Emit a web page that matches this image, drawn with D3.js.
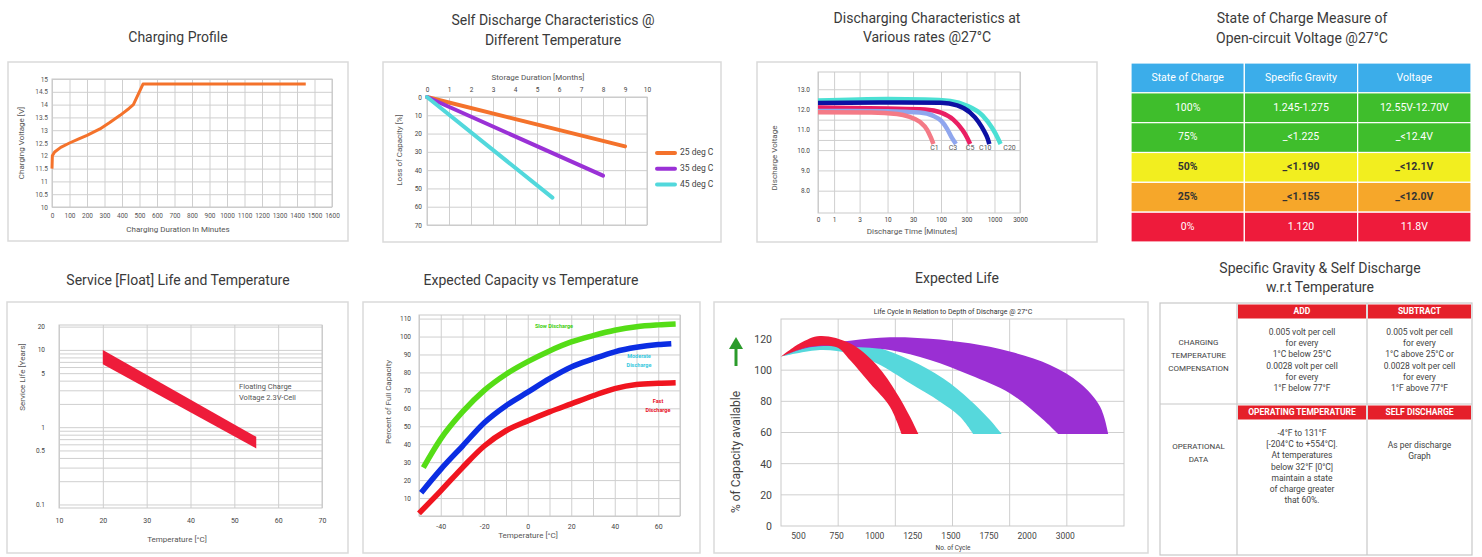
<!DOCTYPE html>
<html>

<head>
    <meta charset="UTF-8">
    <style>
        body { margin: 0; background: #fff; }
        svg { display: block; font-family: Roboto, "Open Sans", sans-serif; }
    </style>
</head>

<body>
    <svg></svg>
    <script src="https://d3js.org/d3.v7.min.js"></script>

    <script>
        const width = 1482, height = 557;

        // ---- Charging profile
        const chargeXTicks = [0, 100, 200, 300, 400, 500, 600, 700, 800, 900, 1000, 1100, 1200, 1300, 1400, 1500, 1600];
        const chargeYTicks = [10, 10.5, 11, 11.5, 12, 12.5, 13, 13.5, 14, 14.5, 15];
        const chargeMinutes = [0, 2, 15, 50, 100, 150, 200, 274, 330, 389, 440, 465, 520, 1450];
        const chargeVolts = [11.5, 12.0, 12.15, 12.33, 12.5, 12.65, 12.8, 13.05, 13.3, 13.58, 13.85, 14.0, 14.8, 14.8];

        // ---- Self discharge
        const monthTicks = [0, 1, 2, 3, 4, 5, 6, 7, 8, 9, 10];
        const lossTicks = [0, 10, 20, 30, 40, 50, 60, 70];
        const selfSeries = ["25 deg C", "35 deg C", "45 deg C"];
        const selfMonths = [[0, 9], [0, 8], [0, 5.7]];
        const selfLoss = [[0, 27], [0, 43], [0, 55]];

        // ---- Discharging at various rates
        const timeTicks = [0.5, 1, 3, 10, 30, 100, 300, 1000, 3000];
        const voltTicks = [8, 9, 10, 10.5, 11, 11.5, 12, 13];
        const voltLabels = [8, 9, 10, 11, 12, 13];
        const rateNames = ["C20", "C10", "C5", "C3", "C1"];
        const rateTimes = [
            [0.5, 10, 50, 150, 300, 600, 900, 1150, 1300],
            [0.5, 10, 100, 200, 350, 500, 650, 750, 800],
            [0.5, 10, 50, 100, 170, 250, 310, 350],
            [0.5, 10, 40, 70, 100, 130, 160, 190],
            [0.5, 5, 15, 25, 40, 55, 65, 72]
        ];
        const rateVolts = [
            [12.44, 12.52, 12.5, 12.42, 12.2, 11.7, 11.1, 10.6, 10.3],
            [12.32, 12.35, 12.33, 12.2, 11.85, 11.4, 10.9, 10.55, 10.3],
            [12.1, 12.05, 12.0, 11.85, 11.5, 11.0, 10.6, 10.3],
            [11.93, 11.92, 11.85, 11.7, 11.45, 11.05, 10.6, 10.3],
            [11.86, 11.85, 11.78, 11.65, 11.4, 11.0, 10.6, 10.3]
        ];
        const rateColors = ["#4be0d4", "#0c10a3", "#ea1f63", "#8fa6ee", "#f47a86"];
        const rateLabelDx = [9, -4, 0, -3, 1];

        // ---- State of charge table
        const socHeader = ["State of Charge", "Specific Gravity", "Voltage"];
        const socLevels = ["100%", "75%", "50%", "25%", "0%"];
        const socGravity = ["1.245-1.275", "_<1.225", "_<1.190", "_<1.155", "1.120"];
        const socVoltage = ["12.55V-12.70V", "_<12.4V", "_<12.1V", "_<12.0V", "11.8V"];
        const socColors = ["#3fbe2c", "#3fbe2c", "#f2ee1f", "#f6a72a", "#ee1b3b"];
        const socDarkText = [false, false, true, true, false];

        // ---- Service life
        const tempTicks = [10, 20, 30, 40, 50, 60, 70];
        const lifeGrid = [0.1, 0.2, 0.3, 0.4, 0.5, 0.6, 0.7, 0.8, 0.9, 1, 2, 3, 4, 5, 6, 7, 8, 9, 10, 20];
        const lifeLabels = [0.1, 0.5, 1, 5, 10, 20];
        const lifeTemps = [20, 55];
        const lifeUpper = [10, 0.75];
        const lifeLower = [6.5, 0.53];

        // ---- Expected capacity vs temperature
        const capXGrid = [-50, -40, -30, -20, -10, 0, 10, 20, 30, 40, 50, 60, 70];
        const capXLabels = [-40, -20, 0, 20, 40, 60];
        const capYGrid = [0, 10, 20, 30, 40, 50, 60, 70, 80, 90, 100, 110];
        const capTemps = [-48, -40, -30, -20, -10, 0, 10, 20, 30, 40, 50, 60, 68];
        const capSlow = [27, 43, 58, 70, 79, 86, 92, 97, 100.5, 103.5, 105.5, 106.5, 107];
        const capTempsMod = [-49, -40, -30, -20, -10, 0, 10, 20, 30, 40, 50, 60, 66];
        const capModerate = [13, 26, 39, 52, 61.5, 69, 76.5, 83, 87.5, 91.5, 94, 95.5, 96];
        const capTempsFast = [-50, -40, -30, -20, -10, 0, 10, 20, 30, 40, 50, 60, 68];
        const capFast = [1.5, 14, 27, 39, 47.5, 53, 58, 62.5, 67, 71, 73.3, 74, 74.3];

        // ---- Expected life (bands: upper edge and lower edge)
        const cycleTicks = [500, 750, 1000, 1250, 1500, 1750, 2000, 3000];
        const availTicks = [0, 20, 40, 60, 80, 100, 120];
        const redUpper = [[388, 108.6], [513, 117.2], [644, 121.9], [841, 117.2], [1016, 103.3], [1148, 85.2], [1235, 70.1], [1290, 59]];
        const redLower = [[388, 108.6], [579, 115], [754, 114.7], [841, 106.5], [972, 91.6], [1103, 76.6], [1180, 59]];
        const cyanUpper = [[388, 108.6], [579, 116.2], [841, 117.6], [1016, 114.7], [1235, 106.5], [1451, 94.8], [1628, 80.9], [1760, 68], [1837, 59]];
        const cyanLower = [[388, 108.6], [644, 112.9], [841, 110.8], [1016, 104.4], [1235, 91.6], [1432, 79.8], [1563, 70.1], [1650, 59]];
        const purpleUpper = [[388, 108.6], [579, 115.5], [841, 118.9], [1103, 121.1], [1366, 120.2], [1628, 117.2], [1890, 111.9], [2614, 103.3], [3400, 91.6], [3930, 76.6], [4144, 59]];
        const purpleLower = [[388, 108.6], [579, 114.7], [841, 115.1], [1103, 112.9], [1366, 106.5], [1628, 96.9], [1890, 85.2], [2350, 70.1], [2830, 59]];

        // ---- Specific gravity table
        const sgRowLabels = [["CHARGING", "TEMPERATURE", "COMPENSATION"], ["OPERATIONAL", "DATA"]];
        const sgHeaders = [["ADD", "SUBTRACT"], ["OPERATING TEMPERATURE", "SELF DISCHARGE"]];
        const sgBody = [
            [["0.005 volt per cell", "for every", "1°C below 25°C", "0.0028 volt per cell", "for every", "1°F below 77°F"],
             ["0.005 volt per cell", "for every", "1°C above 25°C or", "0.0028 volt per cell", "for every", "1°F above 77°F"]],
            [["-4°F to 131°F", "[-204°C to +554°C].", "At temperatures", "below 32°F [0°C]", "maintain a state", "of charge greater", "that 60%."],
             ["As per discharge", "Graph"]]
        ];

        const svg = d3.select("svg")
            .attr("width", width)
            .attr("height", height);

        function box(x0, y0, x1, y1) {
            svg.append("rect")
                .attr("x", x0).attr("y", y0)
                .attr("width", x1 - x0).attr("height", y1 - y0)
                .attr("fill", "#fff")
                .attr("stroke", "#dadada")
                .attr("stroke-width", 1.5);
        }

        function title(lines, cx, y, gap) {
            svg.append("text")
                .attr("text-anchor", "middle")
                .attr("font-size", 14)
                .attr("fill", "#3a3a3a")
                .selectAll("tspan").data(lines).join("tspan")
                .attr("x", cx)
                .attr("y", (d, i) => y + i * (gap || 0))
                .text(d => d);
        }

        function label(txt, x, y, size, rotate, color) {
            svg.append("text")
                .attr("transform", "translate(" + x + "," + y + ")" + (rotate ? " rotate(-90)" : ""))
                .attr("text-anchor", "middle")
                .attr("dominant-baseline", "middle")
                .attr("font-size", size)
                .attr("fill", color || "#555")
                .text(txt);
        }

        function tidy(g, size, color) {
            g.attr("font-family", null).attr("font-size", null);
            g.select(".domain").remove();
            g.selectAll(".tick line").attr("stroke", "#cfcfcf");
            g.selectAll(".tick text").attr("font-size", size).attr("fill", color || "#555");
        }

        function frame(x, y) {
            const xr = x.range(), yr = y.range();
            svg.append("rect")
                .attr("x", d3.min(xr)).attr("y", d3.min(yr))
                .attr("width", d3.max(xr) - d3.min(xr))
                .attr("height", d3.max(yr) - d3.min(yr))
                .attr("fill", "none")
                .attr("stroke", "#c9c9c9");
        }

        const zip = (a, b) => a.map((d, i) => [d, b[i]]);

        // =============== 1. Charging Profile
        box(8, 62, 348, 241);
        title(["Charging Profile"], 178, 42);
        const xCharge = d3.scaleLinear().domain([0, 1600]).range([52, 332]);
        const yCharge = d3.scaleLinear().domain([10, 15]).range([207, 79]);

        svg.append("g")
            .attr("transform", "translate(0,207)")
            .call(d3.axisBottom(xCharge).tickValues(chargeXTicks).tickSize(-128).tickPadding(6).tickFormat(d => d))
            .call(g => tidy(g, 6.5));
        svg.append("g")
            .attr("transform", "translate(52,0)")
            .call(d3.axisLeft(yCharge).tickValues(chargeYTicks).tickSize(-280).tickPadding(4).tickFormat(d => d))
            .call(g => tidy(g, 6.5));
        frame(xCharge, yCharge);

        svg.append("path")
            .datum(zip(chargeMinutes, chargeVolts))
            .attr("fill", "none")
            .attr("stroke", "#f4722b")
            .attr("stroke-width", 3)
            .attr("stroke-linejoin", "round")
            .attr("d", d3.line().x(d => xCharge(d[0])).y(d => yCharge(d[1])));

        label("Charging Voltage [V]", 22, 143, 8, true);
        label("Charging Duration In Minutes", 178, 230, 8);

        // =============== 2. Self discharge
        box(383, 62, 721, 242);
        title(["Self Discharge Characteristics @", "Different Temperature"], 553, 25, 20);
        const xMonth = d3.scaleLinear().domain([0, 10]).range([427, 647]);
        const yLoss = d3.scaleLinear().domain([0, 70]).range([97, 225]);

        svg.append("g")
            .attr("transform", "translate(0,97)")
            .call(d3.axisTop(xMonth).tickValues(monthTicks).tickSize(-128).tickPadding(5))
            .call(g => tidy(g, 6.5, "#444"));
        svg.append("g")
            .attr("transform", "translate(427,0)")
            .call(d3.axisLeft(yLoss).tickValues(lossTicks).tickSize(-220).tickPadding(5))
            .call(g => tidy(g, 6.5, "#444"));
        frame(xMonth, yLoss);

        const selfColors = ["#f4722b", "#9a31d6", "#52d8dc"];
        const selfLine = d3.line().x(d => xMonth(d[0])).y(d => yLoss(d[1]));
        selfSeries.forEach((name, i) => {
            svg.append("path")
                .datum(zip(selfMonths[i], selfLoss[i]))
                .attr("fill", "none")
                .attr("stroke", selfColors[i])
                .attr("stroke-width", 4)
                .attr("stroke-linecap", "round")
                .attr("d", selfLine);
        });

        const legend = svg.append("g").attr("transform", "translate(657,153)");
        legend.selectAll("line").data(selfSeries).join("line")
            .attr("x1", 0).attr("x2", 18)
            .attr("y1", (d, i) => i * 15.8).attr("y2", (d, i) => i * 15.8)
            .attr("stroke", (d, i) => selfColors[i])
            .attr("stroke-width", 4)
            .attr("stroke-linecap", "round");
        legend.selectAll("text").data(selfSeries).join("text")
            .attr("x", 23).attr("y", (d, i) => i * 15.8)
            .attr("dominant-baseline", "middle")
            .attr("font-size", 8.5)
            .attr("fill", "#444")
            .text(d => d);

        label("Storage Duration [Months]", 538, 78, 8);
        label("Loss of Capacity [%]", 400, 150, 8, true);

        // =============== 3. Discharging rates
        box(757, 62, 1097, 242);
        title(["Discharging Characteristics at", "Various rates @27°C"], 927, 23, 19);
        const xTime = d3.scaleLog().domain([0.5, 3000]).range([818, 1020]);
        const yVolt = d3.scaleLinear().domain([6.9, 13.85]).range([213, 72]);

        svg.append("g")
            .attr("transform", "translate(0,213)")
            .call(d3.axisBottom(xTime).tickValues(timeTicks).tickSize(-141).tickPadding(4)
                .tickFormat(d => d < 1 ? "0" : d))
            .call(g => tidy(g, 6.5, "#444"));
        svg.append("g")
            .attr("transform", "translate(818,0)")
            .call(d3.axisLeft(yVolt).tickValues(voltTicks).tickSize(-202).tickPadding(8)
                .tickFormat(d => voltLabels.includes(d) ? d3.format(".1f")(d) : ""))
            .call(g => tidy(g, 6.5, "#444"));
        frame(xTime, yVolt);

        const rateLine = d3.line().curve(d3.curveMonotoneX)
            .x(d => xTime(d[0])).y(d => yVolt(d[1]));
        rateNames.forEach((name, i) => {
            const pts = zip(rateTimes[i], rateVolts[i]);
            svg.append("path")
                .datum(pts)
                .attr("fill", "none")
                .attr("stroke", rateColors[i])
                .attr("stroke-width", 4.5)
                .attr("d", rateLine);
            const last = pts[pts.length - 1];
            svg.append("text")
                .attr("x", xTime(last[0]) + rateLabelDx[i])
                .attr("y", yVolt(10.1))
                .attr("text-anchor", "middle")
                .attr("dominant-baseline", "middle")
                .attr("font-size", 7)
                .attr("fill", "#555")
                .text(name);
        });

        label("Discharge Voltage", 775, 158, 8, true);
        label("Discharge Time [Minutes]", 912, 232, 8);

        // =============== 4. State of charge table
        title(["State of Charge Measure of", "Open-circuit Voltage @27°C"], 1302, 23, 20);
        const xSoc = d3.scaleBand().domain([0, 1, 2]).range([1131, 1471]);
        const ySoc = d3.scaleBand().domain([0, 1, 2, 3, 4, 5]).range([63, 242]);
        const socRows = [socHeader].concat(socLevels.map((d, i) => [d, socGravity[i], socVoltage[i]]));

        const socRow = svg.append("g").selectAll("g").data(socRows).join("g")
            .attr("transform", (d, i) => "translate(0," + ySoc(i) + ")");
        socRow.selectAll("rect").data((d, i) => d.map(v => ({ v: v, row: i }))).join("rect")
            .attr("x", (d, j) => xSoc(j))
            .attr("width", xSoc.bandwidth())
            .attr("height", ySoc.bandwidth())
            .attr("fill", d => d.row === 0 ? "#3badea" : socColors[d.row - 1])
            .attr("stroke", "#fff")
            .attr("stroke-width", 1.2);
        socRow.selectAll("text").data((d, i) => d.map(v => ({ v: v, row: i }))).join("text")
            .attr("x", (d, j) => xSoc(j) + xSoc.bandwidth() / 2)
            .attr("y", ySoc.bandwidth() / 2)
            .attr("text-anchor", "middle")
            .attr("dominant-baseline", "middle")
            .attr("font-size", 10.5)
            .attr("font-weight", d => d.row > 0 && socDarkText[d.row - 1] ? "bold" : "normal")
            .attr("fill", d => d.row > 0 && socDarkText[d.row - 1] ? "#333" : "#fff")
            .text(d => d.v);

        // =============== 5. Service life
        box(7, 302, 348, 553);
        title(["Service [Float] Life and Temperature"], 178, 285);
        const xTemp = d3.scaleLinear().domain([10, 70]).range([59, 322]);
        const yLife = d3.scaleLog().domain([0.09, 21]).range([508, 325]);

        svg.append("g")
            .attr("transform", "translate(0,508)")
            .call(d3.axisBottom(xTemp).tickValues(tempTicks).tickSize(-183).tickPadding(10))
            .call(g => tidy(g, 7, "#444"));
        svg.append("g")
            .attr("transform", "translate(59,0)")
            .call(d3.axisLeft(yLife).tickValues(lifeGrid).tickSize(-263).tickPadding(14)
                .tickFormat(d => lifeLabels.includes(d) ? d : ""))
            .call(g => tidy(g, 6.5, "#444"));
        frame(xTemp, yLife);

        svg.append("path")
            .datum(lifeTemps.map((t, i) => ({ t: t, hi: lifeUpper[i], lo: lifeLower[i] })))
            .attr("fill", "#ee1c3a")
            .attr("d", d3.area().x(d => xTemp(d.t)).y0(d => yLife(d.lo)).y1(d => yLife(d.hi)));

        svg.append("text")
            .attr("font-size", 7.5).attr("fill", "#555")
            .selectAll("tspan").data(["Floating Charge", "Voltage 2.3V-Cell"]).join("tspan")
            .attr("x", 239).attr("y", (d, i) => 389 + i * 10.5)
            .text(d => d);

        label("Service Life [Years]", 23, 377, 8, true);
        label("Temperature [°C]", 177, 540, 8);

        // =============== 6. Expected capacity
        box(363, 302, 700, 553);
        title(["Expected Capacity vs Temperature"], 531, 285);
        const xCap = d3.scaleLinear().domain([-50, 70]).range([419, 680]);
        const yCap = d3.scaleLinear().domain([0, 112]).range([516, 315]);

        svg.append("g")
            .attr("transform", "translate(0,516)")
            .call(d3.axisBottom(xCap).tickValues(capXGrid).tickSize(-201).tickPadding(8)
                .tickFormat(d => capXLabels.includes(d) ? d : ""))
            .call(g => tidy(g, 7, "#444"));
        svg.append("g")
            .attr("transform", "translate(419,0)")
            .call(d3.axisLeft(yCap).tickValues(capYGrid).tickSize(-261).tickPadding(8)
                .tickFormat(d => d === 0 ? "" : d))
            .call(g => tidy(g, 6.5, "#444"));
        frame(xCap, yCap);

        const capLine = d3.line().curve(d3.curveMonotoneX)
            .x(d => xCap(d[0])).y(d => yCap(d[1]));
        [[capTempsFast, capFast, "#f0151f"], [capTempsMod, capModerate, "#0b2de3"], [capTemps, capSlow, "#55dd16"]]
            .forEach(s => {
                svg.append("path")
                    .datum(zip(s[0], s[1]))
                    .attr("fill", "none")
                    .attr("stroke", s[2])
                    .attr("stroke-width", 5.5)
                    .attr("d", capLine);
            });

        function note(lines, x, y, color) {
            svg.append("text")
                .attr("text-anchor", "middle")
                .attr("font-size", 5.5)
                .attr("font-weight", "bold")
                .attr("fill", color)
                .selectAll("tspan").data(lines).join("tspan")
                .attr("x", x).attr("y", (d, i) => y + i * 9)
                .text(d => d);
        }
        note(["Slow Discharge"], 554, 328, "#3fcf10");
        note(["Moderate", "Discharge"], 639, 358, "#36c8e0");
        note(["Fast", "Discharge"], 658, 403, "#e8102a");

        label("Percent of Full Capacity", 389, 402, 8, true);
        label("Temperature [°C]", 528, 536, 8);

        // =============== 7. Expected life
        box(714, 302, 1148, 553);
        title(["Expected Life"], 957, 283);
        const xCycle = d3.scaleLinear()
            .domain(cycleTicks)
            .range(cycleTicks.map((d, i) => 798 + i * 38.1));
        const yAvail = d3.scaleLinear().domain([0, 120]).range([526, 339]);
        const lifePlot = { x0: 781, x1: 1124, y0: 319, y1: 526 };

        const lifeGridG = svg.append("g").attr("stroke", "#cfcfcf");
        lifeGridG.selectAll("line.v").data(d3.range(1, 6)).join("line")
            .attr("class", "v")
            .attr("x1", i => lifePlot.x0 + i * (lifePlot.x1 - lifePlot.x0) / 6)
            .attr("x2", i => lifePlot.x0 + i * (lifePlot.x1 - lifePlot.x0) / 6)
            .attr("y1", lifePlot.y0).attr("y2", lifePlot.y1);
        lifeGridG.selectAll("line.h").data(availTicks.filter(d => d > 0 && d < 120)).join("line")
            .attr("class", "h")
            .attr("x1", lifePlot.x0).attr("x2", lifePlot.x1)
            .attr("y1", d => yAvail(d)).attr("y2", d => yAvail(d));
        svg.append("rect")
            .attr("x", lifePlot.x0).attr("y", lifePlot.y0)
            .attr("width", lifePlot.x1 - lifePlot.x0).attr("height", lifePlot.y1 - lifePlot.y0)
            .attr("fill", "none").attr("stroke", "#c9c9c9");

        svg.append("g")
            .attr("transform", "translate(" + lifePlot.x0 + ",0)")
            .call(d3.axisLeft(yAvail).tickValues(availTicks).tickSize(0).tickPadding(9))
            .call(g => tidy(g, 10.5, "#444"));
        svg.append("g")
            .attr("transform", "translate(0," + lifePlot.y1 + ")")
            .call(d3.axisBottom(xCycle).tickValues(cycleTicks).tickSize(0).tickPadding(7).tickFormat(d => d))
            .call(g => tidy(g, 8.5, "#444"));

        const bandLine = d3.line().curve(d3.curveCatmullRom)
            .x(d => xCycle(d[0])).y(d => yAvail(d[1]));
        function band(upper, lower, color) {
            const d = bandLine(upper) + "L" + bandLine(lower.slice().reverse()).slice(1) + "Z";
            svg.append("path").attr("d", d).attr("fill", color);
        }
        band(cyanUpper, cyanLower, "#56d8dc");
        band(purpleUpper, purpleLower, "#9a2fd3");
        band(redUpper, redLower, "#ee1c3a");

        label("Life Cycle in Relation to Depth of Discharge @ 27°C", 953, 312, 7, false, "#333");
        label("No. of Cycle", 953, 548, 6.5, false, "#444");
        label("% of Capacity available", 737, 452, 12, true, "#444");
        svg.append("line")
            .attr("x1", 736).attr("x2", 736)
            .attr("y1", 366).attr("y2", 348)
            .attr("stroke", "#2b9b2b").attr("stroke-width", 3);
        svg.append("path")
            .attr("d", "M729,349 L736,337 L743,349 Z")
            .attr("fill", "#2b9b2b");

        // =============== 8. Specific gravity table
        title(["Specific Gravity & Self Discharge", "w.r.t Temperature"], 1320, 273, 19);
        const sgCols = [1160, 1237, 1367, 1472];
        const sgRows = [303, 404, 555];
        const sg = svg.append("g");
        sg.append("rect")
            .attr("x", sgCols[0]).attr("y", sgRows[0])
            .attr("width", sgCols[3] - sgCols[0]).attr("height", sgRows[2] - sgRows[0])
            .attr("fill", "#fff").attr("stroke", "#c8c8c8").attr("stroke-width", 1.2);
        sg.selectAll("line.c").data(sgCols.slice(1, 3)).join("line")
            .attr("x1", d => d).attr("x2", d => d)
            .attr("y1", sgRows[0]).attr("y2", sgRows[2])
            .attr("stroke", "#c8c8c8").attr("stroke-width", 1.2);
        sg.append("line")
            .attr("x1", sgCols[0]).attr("x2", sgCols[3])
            .attr("y1", sgRows[1]).attr("y2", sgRows[1])
            .attr("stroke", "#c8c8c8").attr("stroke-width", 1.2);

        const bodyFirst = [[332, 332], [433, 445]];
        const labelFirst = [342, 446];
        sgHeaders.forEach((hdrs, r) => {
            hdrs.forEach((h, c) => {
                const x0 = sgCols[c + 1] + 1, x1 = sgCols[c + 2] - 1;
                sg.append("rect")
                    .attr("x", x0).attr("y", sgRows[r] + 1.5)
                    .attr("width", x1 - x0).attr("height", 14)
                    .attr("fill", "#e5202a");
                sg.append("text")
                    .attr("x", (x0 + x1) / 2).attr("y", sgRows[r] + 8.8)
                    .attr("text-anchor", "middle").attr("dominant-baseline", "middle")
                    .attr("font-size", 8.5).attr("font-weight", "bold").attr("fill", "#fff")
                    .text(h);
                sg.append("text")
                    .attr("text-anchor", "middle").attr("font-size", 8.5).attr("fill", "#444")
                    .selectAll("tspan").data(sgBody[r][c]).join("tspan")
                    .attr("x", (x0 + x1) / 2)
                    .attr("y", (d, i) => bodyFirst[r][c] + 3 + i * 11.2)
                    .text(d => d);
            });
            sg.append("text")
                .attr("text-anchor", "middle").attr("font-size", 8).attr("fill", "#444")
                .selectAll("tspan").data(sgRowLabels[r]).join("tspan")
                .attr("x", (sgCols[0] + sgCols[1]) / 2)
                .attr("y", (d, i) => labelFirst[r] + 3 + i * 13)
                .text(d => d);
        });
    </script>

</body>

</html>
